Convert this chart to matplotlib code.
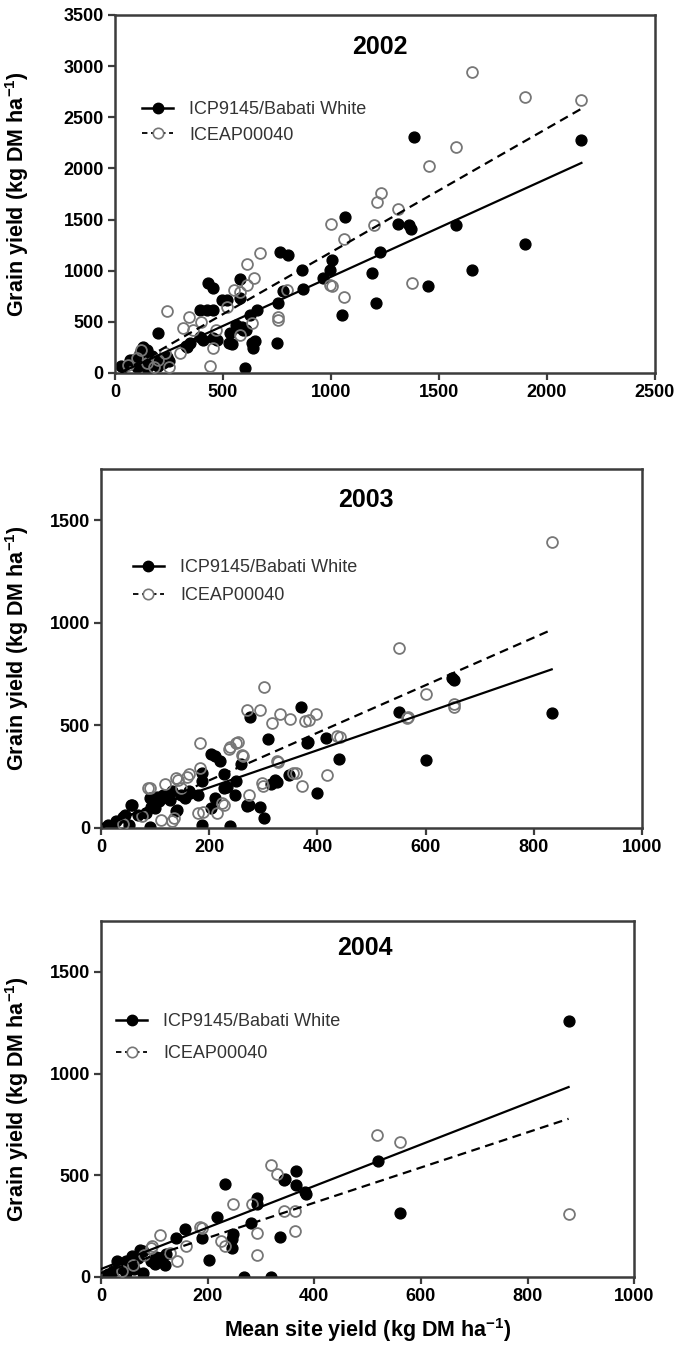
import numpy as np
import matplotlib
matplotlib.use("Agg")
import matplotlib.pyplot as plt

plt.rcParams['font.family'] = ['Liberation Sans', 'DejaVu Sans']
plt.rcParams['mathtext.fontset'] = 'custom'
plt.rcParams['mathtext.rm'] = 'Liberation Sans:bold'
plt.rcParams['mathtext.default'] = 'rm'

# ---- data (x = mean site yield, y = grain yield) ----
# 2002
icp_2002 = [
    (1385, 2310), (2160, 2280), (1065, 1525), (1310, 1460), (1360, 1450), (1370, 1410),
    (1580, 1450), (1900, 1265), (1655, 1005), (1450, 850), (1227, 1186), (1188, 980),
    (1211, 681), (1052, 567), (764, 1186), (802, 1153), (864, 1007), (1003, 1105),
    (995, 1007), (964, 925), (872, 818), (779, 805), (756, 681), (656, 616), (625, 567),
    (432, 876), (455, 828), (579, 916), (579, 730), (494, 714), (517, 714), (394, 616),
    (424, 616), (455, 616), (563, 453), (586, 453), (594, 420), (532, 388), (540, 283),
    (633, 290), (640, 241), (602, 46), (455, 339), (471, 322), (394, 355), (347, 290),
    (332, 257), (201, 388), (131, 257), (147, 225), (116, 192), (162, 160), (193, 127),
    (224, 94), (85, 127), (39, 62), (239, 160), (560, 473), (609, 424), (649, 310),
    (750, 295), (529, 294), (409, 326), (329, 261), (70, 130), (30, 65), (170, 163),
    (130, 98), (190, 82), (230, 114), (100, 60), (150, 50), (200, 70), (250, 120),
]
icea_2002 = [
    (1655, 2945), (1900, 2700), (2160, 2670), (1580, 2210), (1455, 2020), (1230, 1760),
    (1215, 1675), (1310, 1605), (1000, 1455), (1200, 1450), (1060, 1305), (610, 1065),
    (670, 1175), (645, 925), (550, 810), (580, 795), (610, 860), (240, 605), (345, 550),
    (315, 435), (455, 245), (440, 65), (755, 550), (755, 520), (795, 810), (995, 860),
    (1060, 740), (1375, 875), (635, 485), (580, 370), (1005, 855), (100, 150), (150, 100),
    (200, 130), (250, 60), (230, 200), (120, 220), (360, 420), (400, 500), (520, 650),
    (60, 80), (180, 60), (300, 200), (470, 420),
]

# 2003
icp_2003 = [
    (833, 560), (652, 720), (648, 730), (550, 565), (600, 330), (440, 335), (415, 440),
    (380, 415), (370, 590), (275, 540), (308, 435), (400, 170), (348, 260), (322, 232),
    (314, 215), (294, 101), (302, 49), (270, 106), (239, 8), (187, 13), (211, 350),
    (203, 359), (219, 326), (258, 310), (250, 228), (247, 163), (227, 261), (227, 196),
    (211, 147), (203, 98), (187, 228), (179, 163), (163, 179), (155, 147), (139, 82),
    (147, 163), (131, 179), (115, 163), (107, 130), (91, 147), (99, 98), (83, 73),
    (68, 65), (56, 114), (44, 65), (28, 33), (12, 16), (4, 0), (20, 0), (52, 16),
    (91, 5), (274, 114), (383, 421), (232, 201), (186, 267), (165, 169), (140, 88),
    (128, 137), (103, 153), (92, 104), (57, 112), (41, 55), (325, 226), (269, 112),
]
icea_2003 = [
    (833, 1394), (550, 877), (301, 685), (600, 652), (652, 603), (565, 538), (270, 574),
    (293, 574), (330, 554), (350, 530), (377, 522), (397, 554), (316, 514), (437, 448),
    (249, 416), (236, 383), (262, 351), (183, 416), (326, 326), (360, 269), (417, 256),
    (371, 204), (300, 204), (274, 163), (227, 114), (215, 73), (179, 73), (183, 293),
    (163, 261), (139, 245), (119, 212), (87, 196), (131, 33), (147, 196), (652, 590),
    (385, 525), (254, 421), (239, 397), (260, 356), (328, 323), (355, 267), (297, 218),
    (223, 120), (189, 80), (134, 47), (91, 194), (143, 234), (158, 250), (442, 445),
    (568, 543), (40, 20), (75, 60), (110, 40),
]

# 2004
icp_2004 = [
    (877, 1258), (560, 316), (520, 570), (385, 409), (343, 475), (365, 521), (365, 452),
    (293, 386), (293, 360), (233, 455), (281, 267), (335, 196), (245, 185), (245, 144),
    (247, 210), (217, 295), (202, 84), (157, 234), (141, 193), (190, 193), (269, 0),
    (319, 0), (110, 95), (102, 62), (122, 111), (94, 79), (78, 128), (70, 95), (54, 62),
    (38, 46), (30, 79), (22, 29), (14, 13), (6, 5), (46, 21), (62, 38), (78, 21),
    (58, 103), (46, 79), (73, 133), (104, 100), (345, 482), (383, 416), (120, 60),
]
icea_2004 = [
    (877, 311), (518, 698), (560, 663), (319, 549), (331, 504), (247, 360), (283, 360),
    (343, 324), (363, 324), (363, 226), (293, 218), (292, 108), (190, 242), (225, 177),
    (110, 206), (142, 79), (94, 144), (80, 110), (60, 60), (40, 30), (130, 120),
    (160, 150), (186, 248), (233, 150), (95, 150),
]

years = ['2002', '2003', '2004']
icp_points = [icp_2002, icp_2003, icp_2004]
icea_points = [icea_2002, icea_2003, icea_2004]

# regression lines: slope, intercept, x range
icp_slope = [0.96, 0.91, 1.02]
icp_icept = [-20, 15, 39]
icea_slope = [1.21, 1.16, 0.865]
icea_icept = [-30, 0, 19]
line_xmin = [30, 4, 0]
line_xmax = [2160, 833, 877]

xlims = [2500, 1000, 1000]
ylims = [3500, 1750, 1750]
xstep = [500, 200, 200]

# axes rectangles in figure fraction
rects = [
    [0.1706, 0.7233, 0.801, 0.2656],
    [0.1499, 0.3858, 0.8027, 0.2663],
    [0.1499, 0.0527, 0.791, 0.2641],
]
title_pos = [(0.49, 0.91), (0.49, 0.914), (0.495, 0.924)]
leg_anchor = [(0.037, 0.779), (0.046, 0.769), (0.015, 0.761)]
leg_spacing = [0.46, 0.62, 0.81]
ylab_x = [-0.156, -0.129, -0.131]

spine_col = '#3c3c3c'
open_col = '#777777'

fig = plt.figure(figsize=(6.74, 13.48), dpi=100)

for i in range(3):
    ax = fig.add_axes(rects[i])
    fx, fy = np.array(icp_points[i]).T
    ox, oy = np.array(icea_points[i]).T

    ax.plot(ox, oy, 'o', ms=7.8, mfc='none', mec=open_col, mew=1.3, zorder=3)
    ax.plot(fx, fy, 'o', ms=7.8, color='black', zorder=2)

    xl = np.array([line_xmin[i], line_xmax[i]])
    ax.plot(xl, icp_slope[i] * xl + icp_icept[i], '-', color='black', lw=1.6, zorder=4)
    ax.plot(xl, icea_slope[i] * xl + icea_icept[i], '--', color='black', lw=1.6,
            dashes=(4, 2.5), zorder=4)

    # legend handles
    h1, = ax.plot([], [], '-o', color='black', ms=7.5, lw=1.8)
    h2, = ax.plot([], [], '--o', color='black', ms=7.5, lw=1.3, dashes=(3, 2),
                  mfc='white', mec=open_col, mew=1.2)
    leg = ax.legend([h1, h2], ['ICP9145/Babati White', 'ICEAP00040'],
                    loc='upper left', bbox_to_anchor=leg_anchor[i], frameon=False,
                    fontsize=13, handlelength=1.7, handletextpad=0.9,
                    labelspacing=leg_spacing[i], borderaxespad=0)
    for t in leg.get_texts():
        t.set_color('#333333')

    ax.text(title_pos[i][0], title_pos[i][1], years[i], transform=ax.transAxes,
            ha='center', va='center', fontsize=18, fontweight='bold')

    ax.set_xlim(0, xlims[i])
    ax.set_ylim(0, ylims[i])
    ax.set_xticks(np.arange(0, xlims[i] + 1, xstep[i]))
    ax.set_yticks(np.arange(0, min(ylims[i], 3500) + 1, 500))
    ax.tick_params(direction='out', length=5, width=1.6, color=spine_col,
                   labelsize=13, pad=3)
    for lab in ax.get_xticklabels() + ax.get_yticklabels():
        lab.set_fontweight('bold')
    for s in ax.spines.values():
        s.set_linewidth(1.8)
        s.set_color(spine_col)

    ax.set_ylabel('Grain yield (kg DM ha$^{-1}$)', fontsize=15.5, fontweight='bold')
    ax.yaxis.set_label_coords(ylab_x[i], 0.5)
    if i == 2:
        ax.set_xlabel('Mean site yield (kg DM ha$^{-1}$)', fontsize=15.5, fontweight='bold')
        ax.xaxis.set_label_coords(0.5, -0.11)

fig.savefig('out.png', dpi=100)
